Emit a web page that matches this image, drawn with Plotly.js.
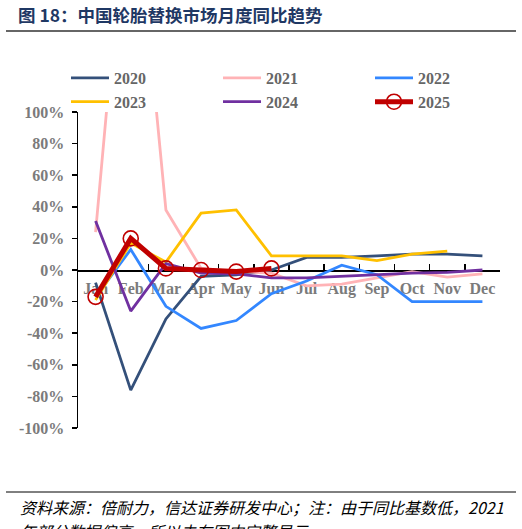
<!DOCTYPE html>
<html>
<head>
<meta charset="utf-8">
<script src="https://cdn.plot.ly/plotly-3.0.1.min.js"></script>
<style>
  html, body { margin: 0; padding: 0; background: #fff; }
  #chart { width: 522px; height: 529px; }
</style>
</head>
<body>
<div id="chart"></div>
<script>
// 中国轮胎替换市场月度同比 (YoY, fraction)
const months = ["Jan", "Feb", "Mar", "Apr", "May", "Jun", "Jul", "Aug", "Sep", "Oct", "Nov", "Dec"];
const yoy2020 = [-0.08, -0.76, -0.31, -0.04, -0.03, 0.00, 0.08, 0.08, 0.09, 0.10, 0.10, 0.09];
const yoy2021 = [0.24, 2.70, 0.38, 0.01, -0.01, -0.02, -0.10, -0.09, -0.05, -0.01, -0.045, -0.025];
const yoy2022 = [-0.17, 0.13, -0.23, -0.37, -0.32, -0.15, -0.07, 0.03, -0.03, -0.20, -0.20, -0.20];
const yoy2023 = [-0.19, 0.17, 0.05, 0.36, 0.38, 0.09, 0.09, 0.09, 0.06, 0.10, 0.12, null];
const yoy2024 = [0.31, -0.26, 0.04, -0.02, -0.025, -0.05, -0.05, -0.04, -0.03, -0.02, -0.015, 0.00];
const yoy2025 = [-0.17, 0.20, 0.01, 0.00, -0.01, 0.01, null, null, null, null, null, null];

// y-axis ticks (plain hyphen for negatives, as in the source chart)
const yTickVals = [1, 0.8, 0.6, 0.4, 0.2, 0, -0.2, -0.4, -0.6, -0.8, -1];
const yTickText = ["100%", "80%", "60%", "40%", "20%", "0%", "-20%", "-40%", "-60%", "-80%", "-100%"];

const C = {
  y2020: "#34507a", y2021: "#ffb3b6", y2022: "#3387ff",
  y2023: "#ffc000", y2024: "#7030a0", y2025: "#c00000",
  tick: "#7b7b7b", legend: "#666666", title: "#1f3864",
};

const serif = "'Liberation Serif', 'Times New Roman', serif";
const cjk = "'Noto Sans CJK SC', sans-serif";

function line(name, y, color) {
  return {
    type: "scatter", mode: "lines", name: name, x: months, y: y,
    line: { color: color, width: 2.8 }, connectgaps: false,
  };
}

const traces = [
  line("2020", yoy2020, C.y2020),
  line("2021", yoy2021, C.y2021),
  line("2022", yoy2022, C.y2022),
  line("2023", yoy2023, C.y2023),
  line("2024", yoy2024, C.y2024),
  {
    type: "scatter", mode: "lines+markers", name: "2025", x: months, y: yoy2025,
    line: { color: C.y2025, width: 5 },
    marker: { symbol: "circle-open", size: 15, color: C.y2025, line: { width: 1.6, color: C.y2025 } },
  },
];

// plot area: 78..500 px wide, 112..428 px tall
const PX = v => (v - 78) / 422;
const PY = v => (428 - v) / 316;

const layout = {
  width: 522, height: 529,
  margin: { l: 78, r: 22, t: 112, b: 101 },
  paper_bgcolor: "#fff", plot_bgcolor: "#fff",
  showlegend: true,
  legend: {
    orientation: "h", x: PX(72), y: PY(61), xanchor: "left", yanchor: "top",
    entrywidth: 99, entrywidthmode: "pixels", itemwidth: 38,
    font: { family: serif, size: 16, color: C.legend, weight: "bold" },
    bgcolor: "rgba(0,0,0,0)", tracegroupgap: 0,
  },
  xaxis: {
    type: "category", anchor: "free", position: 0.5,
    showline: true, linecolor: "#000", linewidth: 1.5,
    ticks: "inside", ticklen: 6, tickcolor: "#000", tickwidth: 1.5, tickson: "boundaries",
    showgrid: false, zeroline: false, layer: "below traces", tickangle: 0,
    ticklabelstandoff: 3,
    tickfont: { family: serif, size: 16, color: C.tick, weight: "bold" },
    range: [-0.5, 11.5], fixedrange: true,
  },
  yaxis: {
    range: [-1, 1], tickmode: "array", tickvals: yTickVals, ticktext: yTickText,
    showline: true, linecolor: "#000", linewidth: 1.5,
    ticks: "outside", ticklen: 5, tickcolor: "#000", tickwidth: 1.5,
    showgrid: false, zeroline: false, ticklabelstandoff: 4,
    tickfont: { family: serif, size: 16, color: C.tick, weight: "bold" },
    fixedrange: true,
  },
  shapes: [
    { type: "line", xref: "paper", yref: "paper", x0: PX(6), x1: PX(516), y0: PY(31), y1: PY(31),
      line: { color: "#333", width: 1.5 } },
    { type: "line", xref: "paper", yref: "paper", x0: PX(6), x1: PX(516), y0: PY(492), y1: PY(492),
      line: { color: "#000", width: 1 } },
  ],
  annotations: [
    { text: "<b>图 18：中国轮胎替换市场月度同比趋势</b>", xref: "paper", yref: "paper",
      x: PX(16), y: PY(15), xanchor: "left", yanchor: "middle", showarrow: false,
      font: { family: cjk, size: 17.5, color: C.title } },
    { text: "资料来源：倍耐力，信达证券研发中心；注：由于同比基数低，2021", xref: "paper", yref: "paper",
      x: PX(18), y: PY(507), xanchor: "left", yanchor: "middle", showarrow: false,
      font: { family: cjk, size: 16, color: "#000", style: "italic" } },
    { text: "年部分数据偏高，所以未在图中完整显示", xref: "paper", yref: "paper",
      x: PX(18), y: PY(531), xanchor: "left", yanchor: "middle", showarrow: false,
      font: { family: cjk, size: 16, color: "#000", style: "italic" } },
  ],
};

Plotly.newPlot("chart", traces, layout, { displayModeBar: false, staticPlot: true });
</script>
</body>
</html>
